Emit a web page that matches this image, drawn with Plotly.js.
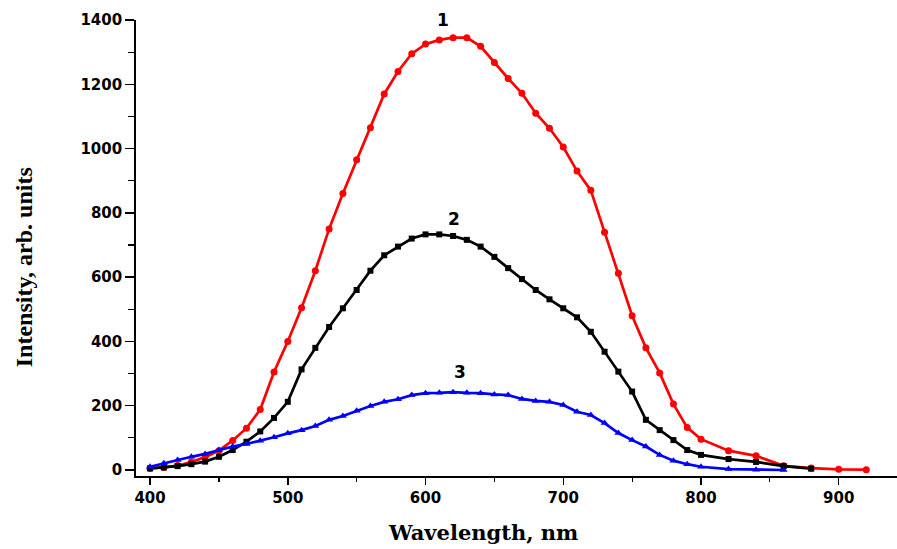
<!DOCTYPE html>
<html>
<head>
<meta charset="utf-8">
<script src="https://cdn.plot.ly/plotly-3.0.1.min.js"></script>
<style>html,body{margin:0;padding:0;background:#fff;}#chart{width:897px;height:549px;}</style>
</head>
<body>
<div id="chart"></div>
<script>
// Curve 1 (red)
const wl1 = [400,410,420,430,440,450,460,470,480,490,500,510,520,530,540,550,560,570,580,590,600,610,620,630,640,650,660,670,680,690,700,710,720,730,740,750,760,770,780,790,800,820,840,860,880,900,920];
const int1 = [5,8,14,25,40,60,92,130,188,305,400,505,620,750,860,965,1065,1170,1240,1295,1325,1338,1345,1345,1318,1268,1218,1172,1110,1063,1005,930,870,740,612,480,380,302,205,132,96,60,44,13,6,2,1];
// Curve 2 (black)
const wl2 = [400,410,420,430,440,450,460,470,480,490,500,510,520,530,540,550,560,570,580,590,600,610,620,630,640,650,660,670,680,690,700,710,720,730,740,750,760,770,780,790,800,820,840,860,880];
const int2 = [5,8,12,18,26,41,62,88,120,162,212,313,380,445,503,560,620,668,695,720,733,733,728,716,695,663,628,594,560,531,503,475,430,368,306,244,156,124,93,62,47,34,25,12,4];
// Curve 3 (blue)
const wl3 = [400,410,420,430,440,450,460,470,480,490,500,510,520,530,540,550,560,570,580,590,600,610,620,630,640,650,660,670,680,690,700,710,720,730,740,750,760,770,780,790,800,820,840,860];
const int3 = [10,21,31,41,50,62,73,81,91,102,114,124,137,156,168,184,199,212,220,233,239,240,242,240,239,235,233,221,215,212,202,181,171,146,115,93,73,47,29,18,10,3,1,0];
// Curve labels
const labelText = ["1","2","3"];
const labelX = [613,621,625];
const labelY = [1400,781,305];

const traces = [
  {x: wl1, y: int1, mode: 'lines+markers', line: {color: '#ff0000', width: 2.7}, marker: {symbol: 'circle', size: 7, color: '#ff0000'}},
  {x: wl2, y: int2, mode: 'lines+markers', line: {color: '#000000', width: 2.7}, marker: {symbol: 'square', size: 6, color: '#000000'}},
  {x: wl3, y: int3, mode: 'lines+markers', line: {color: '#0000ff', width: 2.7}, marker: {symbol: 'triangle-up', size: 7, color: '#0000ff'}}
];

const tickFont = {family: 'DejaVu Sans', size: 15, color: '#000', weight: 'bold'};
const annotations = labelText.map((t, i) => ({
  x: labelX[i], y: labelY[i], xref: 'x', yref: 'y', text: t, showarrow: false,
  font: {family: 'DejaVu Sans', size: 17, color: '#000', weight: 'bold'}
}));
annotations.push({
  x: 0.456, y: -0.123, xref: 'paper', yref: 'paper', text: 'Wavelength, nm', showarrow: false,
  xanchor: 'center', yanchor: 'middle',
  font: {family: 'DejaVu Serif', size: 21, color: '#000', weight: 'bold'}
});
annotations.push({
  x: -0.147, y: 0.458, xref: 'paper', yref: 'paper', text: 'Intensity, arb. units', showarrow: false,
  xanchor: 'center', yanchor: 'middle', textangle: -90,
  font: {family: 'Liberation Serif', size: 24, color: '#000', weight: 'bold'}
});

const layout = {
  width: 897, height: 549,
  margin: {l: 136, r: 0, t: 20, b: 73},
  paper_bgcolor: '#ffffff', plot_bgcolor: '#ffffff',
  showlegend: false,
  xaxis: {
    range: [389.8, 942.3], showgrid: false, zeroline: false,
    showline: true, linecolor: '#000', linewidth: 1.8,
    ticks: 'outside', ticklen: 7, tickwidth: 1.5, tickcolor: '#000',
    tick0: 400, dtick: 100, tickfont: tickFont,
    minor: {dtick: 50, ticks: 'outside', ticklen: 4, tickwidth: 1.2, tickcolor: '#000', showgrid: false}
  },
  yaxis: {
    range: [-18.7, 1400], showgrid: false, zeroline: false,
    showline: true, linecolor: '#000', linewidth: 1.8,
    ticks: 'outside', ticklen: 9, tickwidth: 1.5, tickcolor: '#000',
    tick0: 0, dtick: 200, tickfont: tickFont,
    minor: {dtick: 100, ticks: 'outside', ticklen: 6, tickwidth: 1.2, tickcolor: '#000', showgrid: false}
  },
  annotations: annotations
};

Plotly.newPlot('chart', traces, layout, {displayModeBar: false, staticPlot: true});
</script>
</body>
</html>
